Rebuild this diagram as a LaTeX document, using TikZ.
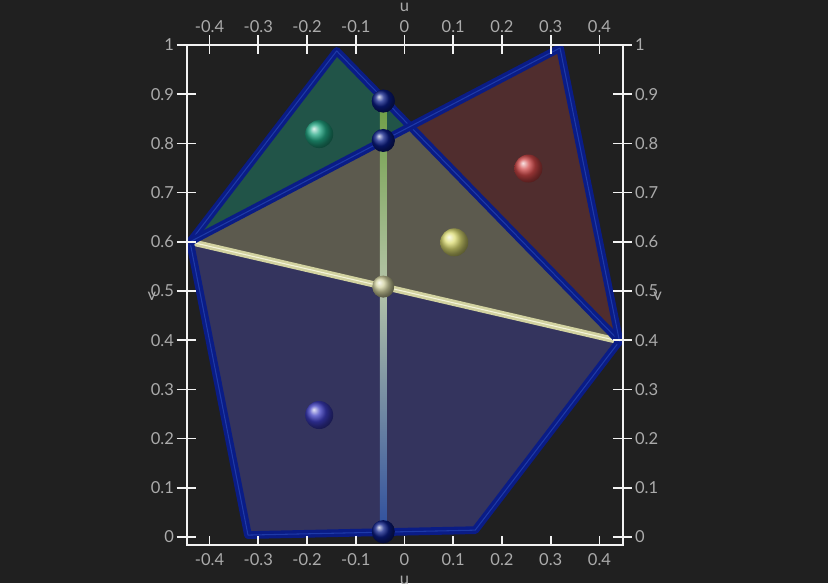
\documentclass[tikz,border=0pt]{standalone}
\usepackage{fontspec}
\setmainfont{Lato}
\usetikzlibrary{calc}
\definecolor{vwbg}{HTML}{202020}
\definecolor{vwtext}{HTML}{ABABAB}
\definecolor{vwaxis}{HTML}{F2F2F2}
\definecolor{vwnavy}{HTML}{0A1C86}
\definecolor{vwnavyhi}{HTML}{1E3AA8}
\definecolor{vwgreen}{HTML}{215448}
\definecolor{vwred}{HTML}{502D2E}
\definecolor{vwolive}{HTML}{5C5A4E}
\definecolor{vwblue}{HTML}{34345E}
\definecolor{vwcream}{HTML}{D2D2A0}
\definecolor{vwcreamhi}{HTML}{F4F4DA}
\definecolor{vwgball}{HTML}{22A884}
\definecolor{vwrball}{HTML}{D04848}
\definecolor{vwyball}{HTML}{DCDC72}
\definecolor{vwbball}{HTML}{3C3CC0}
\definecolor{vwtubeg}{HTML}{6E9E44}
\definecolor{vwtubel}{HTML}{B4C4A8}
\definecolor{vwtubeb}{HTML}{2E4E9E}
\tikzset{
  edge/.style={draw=vwnavy, line width=0.95pt, double=vwnavyhi, double distance=0.3pt, line join=round, line cap=round},
  seam/.style={draw=vwcream, line width=0.75pt, double=vwcreamhi, double distance=0.3pt, line cap=round},
  knot/.style={circle, inner sep=0pt, minimum size=0.23cm, ball color=vwnavy},
  seed/.style={circle, inner sep=0pt, minimum size=0.28cm},
  axl/.style={draw=vwaxis, line width=0.45pt},
  tkl/.style={text=vwtext, inner sep=0.6pt},
}

\begin{document}
\begin{tikzpicture}[x=4.875cm, y=4.92cm, font=\fontsize{4.7pt}{5pt}\selectfont]
  \path[use as bounding box, fill=vwbg] (-0.8297,-0.0935) rectangle (0.8687,1.0915);
  % cell corners
  \coordinate (A) at (-0.44,0.6);
  \coordinate (G) at (-0.139,0.988);
  \coordinate (R) at (0.319,0.994);
  \coordinate (B) at (0.441,0.398);
  \coordinate (BR) at (0.145,0.014);
  \coordinate (BL) at (-0.321,0.004);
  \coordinate (X) at (intersection of A--R and G--B);
  % cells
  \fill[vwblue] (A) -- (B) -- (BR) -- (BL) -- cycle;
  \fill[vwolive] (A) -- (X) -- (B) -- cycle;
  \fill[vwgreen] (A) -- (G) -- (X) -- cycle;
  \fill[vwred] (X) -- (R) -- (B) -- cycle;
  % joints
  \node[knot] (kt) at (-0.0435,0.886) {};
  \node[knot] (km) at (-0.0435,0.806) {};
  \node[knot, minimum size=0.22cm, ball color=vwcream] (kc) at (-0.0435,0.509) {};
  \node[knot] (kb) at (-0.0435,0.011) {};
  % vertical tube
  \shade[top color=vwtubeg, bottom color=vwtubel] ($(kt.center)+(-0.033cm,0)$) rectangle ($(kc.center)+(0.033cm,0)$);
  \shade[top color=vwtubel, bottom color=vwtubeb] ($(kc.center)+(-0.033cm,0)$) rectangle ($(kb.center)+(0.033cm,0)$);
  \draw[seam] (A) -- (B);
  \draw[edge] (A) -- (G) -- (B) -- (BR) -- (BL) -- cycle;
  \draw[edge] (A) -- (R) -- (B);
  % redraw joints on top
  \node[knot] at (kt) {};
  \node[knot] at (km) {};
  \node[knot, minimum size=0.22cm, ball color=vwcream] at (kc) {};
  \node[knot] at (kb) {};
  % seeds
  \node[seed, ball color=vwgball] (sg) at (-0.175,0.819) {};
  \node[seed, ball color=vwrball] (sr) at (0.254,0.749) {};
  \node[seed, ball color=vwyball] (sy) at (0.102,0.599) {};
  \node[seed, ball color=vwbball] (sb) at (-0.175,0.248) {};
  % axes
  \draw[axl] (-0.4467,1) rectangle (0.4487,-0.0163);
  \foreach \u [count=\k] in {-0.4,-0.3,-0.2,-0.1,0,0.1,0.2,0.3,0.4} {
    \draw[axl] ($(\u,1)+(0,0.1cm)$) -- ($(\u,1)+(0,-0.09cm)$);
    \draw[axl] (\u,-0.0163) -- ++(0,0.095cm);
    \node[tkl] (ut\k) at (\u,1.0366) {\u};
    \node[tkl] (ub\k) at (\u,-0.0467) {\u};
  }
  \foreach \v [count=\k] in {0,0.1,0.2,0.3,0.4,0.5,0.6,0.7,0.8,0.9,1} {
    \draw[axl] ($(-0.4467,\v)+(-0.1cm,0)$) -- ($(-0.4467,\v)+(0.09cm,0)$);
    \draw[axl] ($(0.4487,\v)+(-0.1cm,0)$) -- ($(0.4487,\v)+(0.09cm,0)$);
    \node[tkl, anchor=east] (vl\k) at ($(-0.4467,\v)+(-0.1cm,0)$) {\v};
    \node[tkl, anchor=west] (vr\k) at ($(0.4487,\v)+(0.09cm,0)$) {\v};
  }
  \node[tkl] (utop) at (0,1.076) {u};
  \node[tkl] (ubot) at (0,-0.088) {u};
  \node[tkl] (vleft) at (-0.518,0.49) {v};
  \node[tkl] (vright) at (0.519,0.49) {v};
\end{tikzpicture}
\end{document}
